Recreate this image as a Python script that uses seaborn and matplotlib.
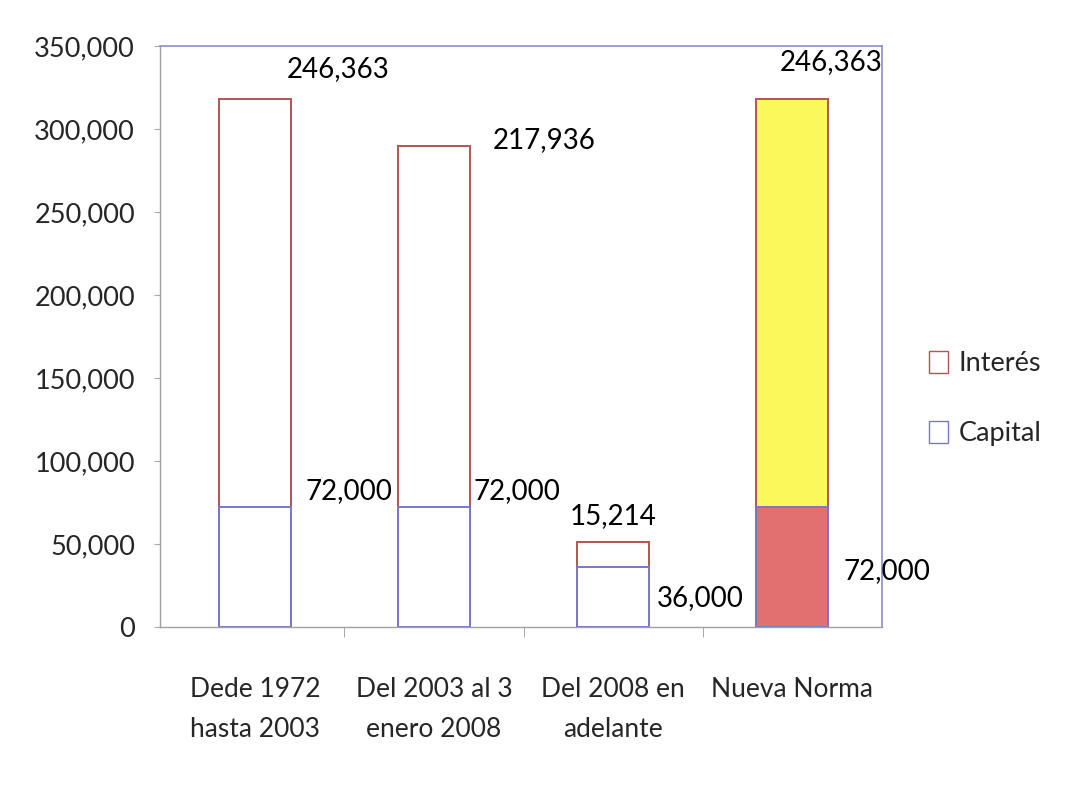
import matplotlib
matplotlib.use("Agg")
import matplotlib.pyplot as plt
from matplotlib.patches import Patch
from matplotlib.ticker import FuncFormatter
import seaborn as sns

# Data
categorias = ["Dede 1972\nhasta 2003", "Del 2003 al 3\nenero 2008",
              "Del 2008 en\nadelante", "Nueva Norma"]
capital = [72000, 72000, 36000, 72000]
interes = [246363, 217936, 15214, 246363]
totales = [c + i for c, i in zip(capital, interes)]

# Fill colours per bar (only the last bar is filled)
color_interes = ["white", "white", "white", "#f9f95c"]
color_capital = ["white", "white", "white", "#e27070"]
borde_interes = "#b25454"
borde_capital = "#7878c8"

# Label offsets in points (Excel-style placement)
off_interes = [(60, 21), (79, 4), (0, 19), (28, 26)]
off_capital = [(68, 12), (60, 12), (63, -22), (68, -46)]

sns.set_style("white")
plt.rcParams["font.family"] = ["Lato", "DejaVu Sans"]

fig = plt.figure(figsize=(10.7, 7.89), dpi=100)
ax = fig.add_axes([0.1495, 0.2053, 0.6745, 0.7364])

# Total bars (interest on top of capital), then capital bars over them
sns.barplot(x=categorias, y=totales, hue=categorias, palette=color_interes,
            edgecolor=borde_interes, linewidth=1.4, width=0.4, saturation=1,
            legend=False, ax=ax)
sns.barplot(x=categorias, y=capital, hue=categorias, palette=color_capital,
            edgecolor=borde_capital, linewidth=1.4, width=0.4, saturation=1,
            legend=False, ax=ax)

# Data labels
for i in range(len(categorias)):
    ax.annotate(f"{interes[i]:,}", xy=(i, totales[i]), xytext=off_interes[i],
                textcoords="offset points", ha="center", va="center",
                fontsize=20, color="black", annotation_clip=False)
    ax.annotate(f"{capital[i]:,}", xy=(i, capital[i]), xytext=off_capital[i],
                textcoords="offset points", ha="center", va="center",
                fontsize=20, color="black", annotation_clip=False)

ax.set_ylim(0, 350000)
ax.set_xlim(-0.53, len(categorias) - 0.5)
ax.set_yticks(range(0, 350001, 50000))
ax.yaxis.set_major_formatter(FuncFormatter(lambda v, p: f"{int(v):,}"))
ax.tick_params(axis="y", labelsize=19.5, length=4, color="#aaaaaa",
               direction="out", pad=14, left=True)
ax.tick_params(axis="x", labelsize=19, length=0, pad=36)
ax.set_xticks(range(len(categorias)))
ax.set_xticks([k + 0.5 for k in range(len(categorias) - 1)], minor=True)
ax.tick_params(axis="x", which="minor", length=7, color="#999999",
               direction="out", bottom=True)
for lbl in ax.get_xticklabels():
    lbl.set_linespacing(1.75)
ax.set_xlabel("")
ax.set_ylabel("")

for side in ["top", "right"]:
    ax.spines[side].set_color("#8c8cd0")
    ax.spines[side].set_linewidth(1.2)
for side in ["left", "bottom"]:
    ax.spines[side].set_color("#a0a0a0")
    ax.spines[side].set_linewidth(1.0)

handles = [Patch(facecolor="white", edgecolor=borde_interes, label="Interés"),
           Patch(facecolor="white", edgecolor=borde_capital, label="Capital")]
fig.legend(handles=handles, loc="center left", bbox_to_anchor=(0.835, 0.495),
           fontsize=19.5, frameon=True, facecolor="white", edgecolor="none",
           handlelength=0.7, handleheight=0.9, handletextpad=0.4,
           labelspacing=1.65, borderpad=0.8)

fig.savefig("out.png", dpi=100, facecolor="white")
